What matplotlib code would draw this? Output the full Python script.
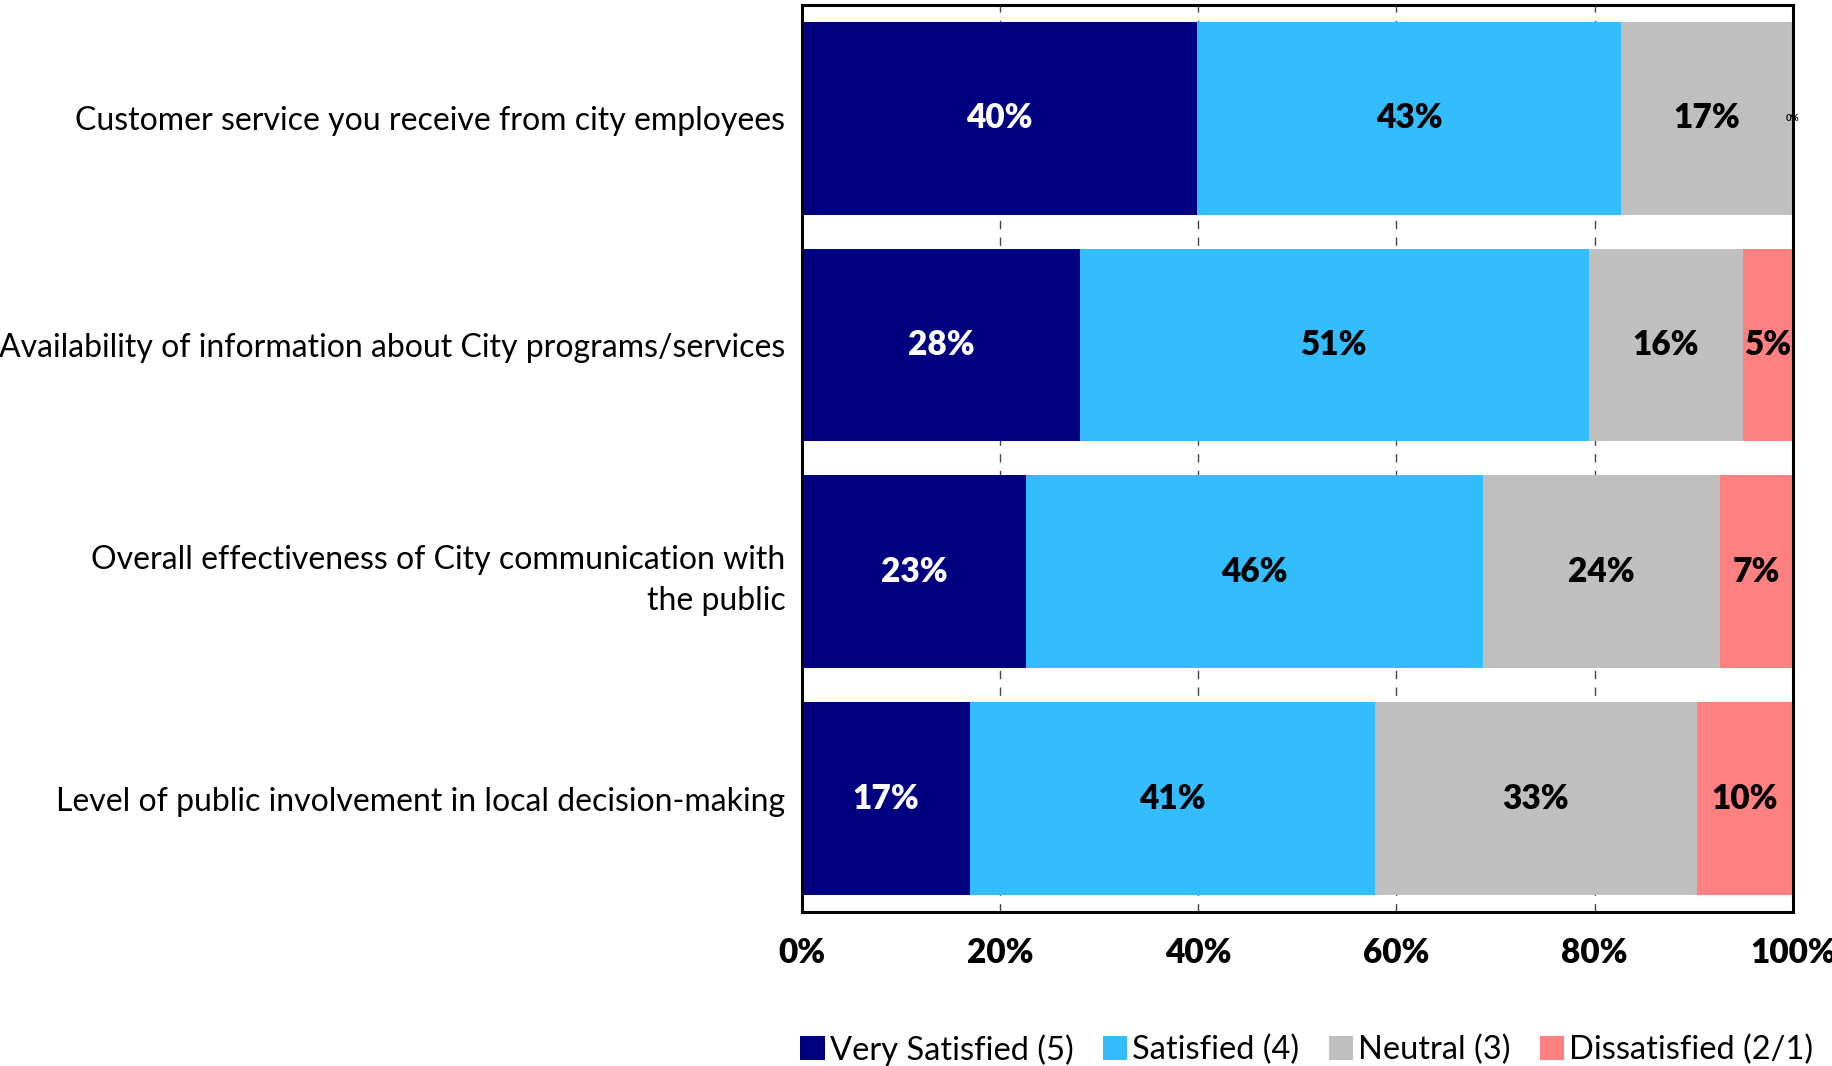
import numpy as np
import matplotlib.pyplot as plt

categories = [
    'Customer service you receive from city employees',
    'Availability of information about City programs/services',
    'Overall effectiveness of City communication with\nthe public',
    'Level of public involvement in local decision-making',
]
series_names = ['Very Satisfied (5)', 'Satisfied (4)', 'Neutral (3)', 'Dissatisfied (2/1)']
very_satisfied = [39.9, 28.1, 22.6, 17.0]
satisfied = [42.8, 51.3, 46.1, 40.8]
neutral = [17.3, 15.6, 23.9, 32.5]
dissatisfied = [0.0, 5.0, 7.4, 9.7]
x_ticks = [0, 20, 40, 60, 80, 100]

colors = ['#000080', '#33BDFF', '#BFBFBF', '#FF8080']
text_colors = ['white', 'black', 'black', 'black']

plt.rcParams['font.family'] = ['Lato', 'DejaVu Sans']

fig = plt.figure(figsize=(18.33, 10.66), dpi=100)
ax = fig.add_axes([0.4375, 0.1445, 0.5406, 0.851])

y = np.arange(len(categories))
left = np.zeros(len(categories))
for name, vals, c, tc in zip(series_names, [very_satisfied, satisfied, neutral, dissatisfied],
                             colors, text_colors):
    vals = np.array(vals)
    bars = ax.barh(y, vals, left=left, height=0.85, color=c, label=name, zorder=2)
    for b, v, l in zip(bars, vals, left):
        if v > 0:
            ax.text(l + v / 2, b.get_y() + b.get_height() / 2, f'{round(v + 0.01):.0f}%',
                    ha='center', va='center', color=tc, fontsize=24, fontweight='heavy')
        else:
            ax.text(l, b.get_y() + b.get_height() / 2, f'{v:.0f}%',
                    ha='center', va='center', color=tc, fontsize=7, fontweight='bold')
    left = left + vals

ax.set_xlim(0, 100)
ax.set_ylim(len(categories) - 0.5, -0.5)
ax.set_yticks(y)
ax.set_yticklabels(categories, fontsize=23, ha='right', linespacing=1.45)
ax.set_xticks(x_ticks)
ax.set_xticklabels([f'{t}%' for t in x_ticks], fontsize=24, fontweight='heavy')
ax.tick_params(axis='both', length=0)
ax.tick_params(axis='x', pad=18)
ax.tick_params(axis='y', pad=12)
ax.grid(axis='x', color='#444444', linestyle=(0, (6, 6)), linewidth=1, zorder=0)
for s in ax.spines.values():
    s.set_linewidth(2.2)
    s.set_color('black')

fig.legend(loc='lower right', bbox_to_anchor=(1.0, -0.018), ncol=4, frameon=False,
           fontsize=23.5, handlelength=0.75, handleheight=0.75, handletextpad=0.15,
           columnspacing=0.9, borderaxespad=0.2)

fig.savefig('out.png', dpi=100)
